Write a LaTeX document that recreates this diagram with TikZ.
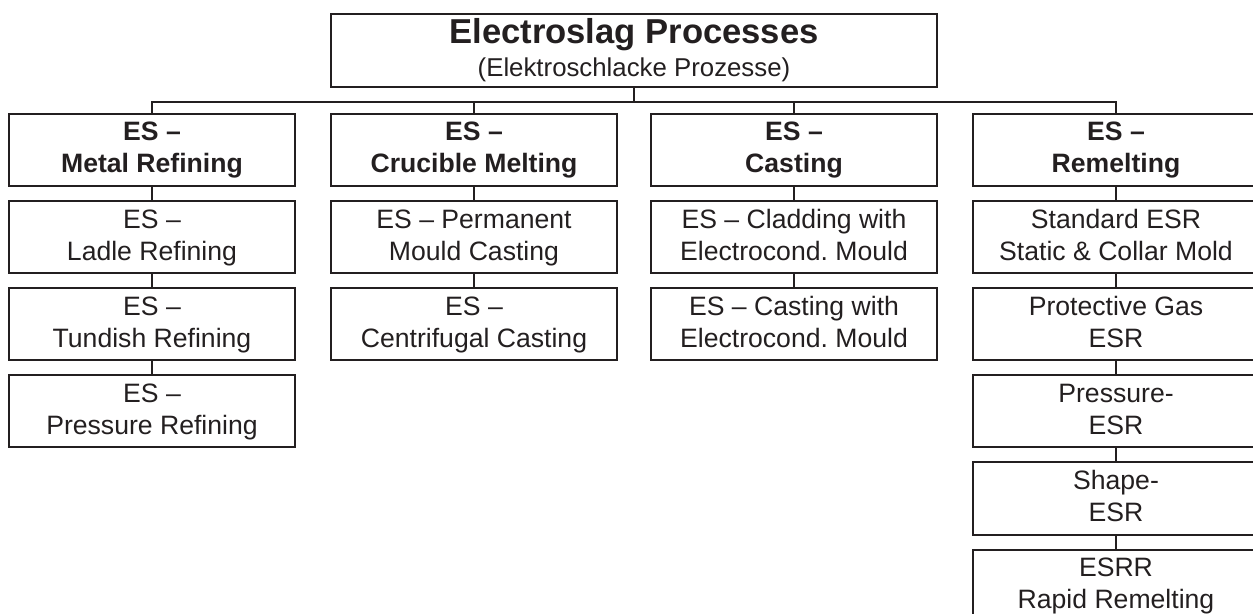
\documentclass[tikz,border=0pt]{standalone}
\usepackage{fontspec}
\setmainfont{Liberation Sans}
\usepackage{xcolor}
\usepackage{tikz}
\usetikzlibrary{positioning}
\frenchspacing
\definecolor{esdark}{RGB}{35,31,32}
\tikzset{
  procbox/.style={draw=esdark, line width=1pt, align=center,
    minimum width=143pt, minimum height=36pt, inner sep=2pt,
    font=\fontsize{13.3}{16}\selectfont,
    execute at begin node={\rule{0pt}{12.5pt}},
    execute at end node={\rule[-2.5pt]{0pt}{2.5pt}}},
  headbox/.style={procbox, font=\fontsize{13.3}{16}\selectfont\bfseries},
  titlebox/.style={draw=esdark, line width=1pt, align=center,
    minimum width=303pt, minimum height=36.5pt, inner sep=2pt,
    font=\fontsize{12.9}{16.5}\selectfont},
  link/.style={draw=esdark, line width=1pt}
}
\begin{document}
\begin{tikzpicture}[x=0.5pt, y=-0.5pt, node distance=6.5pt, text=esdark]
        \useasboundingbox (0,0) rectangle (1253,614);
        \clip (0,0) rectangle (1253,614);
        \node[titlebox] (top) at (634,50.5)
          {{\fontsize{17.3}{16.5}\selectfont\bfseries Electroslag Processes}\\(Elektroschlacke Prozesse)};
        % column heads
        \node[headbox] (metal) at (152,150.5) {ES –\\Metal Refining};
        \node[headbox] (crucible) at (474,150.5) {ES –\\Crucible Melting};
        \node[headbox] (casting) at (794,150.5) {ES –\\Casting};
        \node[headbox] (remelt) at (1116,150.5) {ES –\\Remelting};
        % metal refining
        \node[procbox, below=of metal] (ladle) {ES –\\Ladle Refining};
        \node[procbox, below=of ladle] (tundish) {ES –\\Tundish Refining};
        \node[procbox, below=of tundish] (pressref) {ES –\\Pressure Refining};
        % crucible melting
        \node[procbox, below=of crucible] (permanent) {ES – Permanent\\Mould Casting};
        \node[procbox, below=of permanent] (centri) {ES –\\Centrifugal Casting};
        % casting
        \node[procbox, below=of casting] (cladding) {ES – Cladding with\\Electrocond. Mould};
        \node[procbox, below=of cladding] (castwith) {ES – Casting with\\Electrocond. Mould};
        % remelting
        \node[procbox, below=of remelt] (standard) {Standard ESR\\Static \& Collar Mold};
        \node[procbox, below=of standard] (protgas) {Protective Gas\\ESR};
        \node[procbox, below=of protgas] (pressesr) {Pressure-\\ESR};
        \node[procbox, below=of pressesr] (shape) {Shape-\\ESR};
        \node[procbox, below=of shape] (rapid) {ESRR\\Rapid Remelting};
        % bus
        \draw[link] (top.south) -- ++(0,14) coordinate (bus);
        \foreach \h in {metal,crucible,casting,remelt}
          \draw[link] (bus) -| (\h.north);
        \draw[link] (metal) -- (ladle);
        \draw[link] (ladle) -- (tundish);
        \draw[link] (tundish) -- (pressref);
        \draw[link] (crucible) -- (permanent);
        \draw[link] (permanent) -- (centri);
        \draw[link] (casting) -- (cladding);
        \draw[link] (cladding) -- (castwith);
        \draw[link] (remelt) -- (standard);
        \draw[link] (standard) -- (protgas);
        \draw[link] (protgas) -- (pressesr);
        \draw[link] (pressesr) -- (shape);
        \draw[link] (shape) -- (rapid);
    \end{tikzpicture}
\end{document}
